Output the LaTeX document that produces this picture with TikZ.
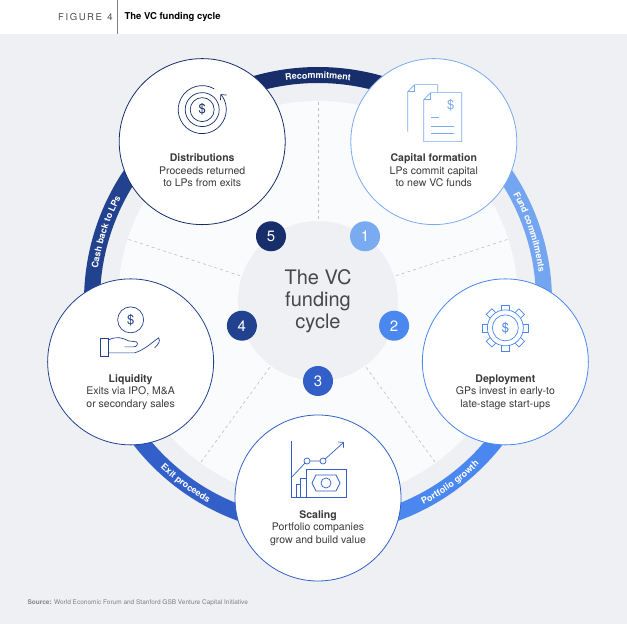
\documentclass[tikz,border=0pt]{standalone}
\usepackage{fontspec}
\setmainfont{TeX Gyre Heros}
\usetikzlibrary{decorations.text,arrows.meta}

\definecolor{panel}{HTML}{EEF0F4}
\definecolor{inner}{HTML}{FAFBFC}
\definecolor{cnavy}{HTML}{172E6B}
\definecolor{cdark}{HTML}{22418F}
\definecolor{cmid}{HTML}{3260C8}
\definecolor{cblue}{HTML}{4A87EE}
\definecolor{clight}{HTML}{7AAAF0}
\definecolor{txt}{HTML}{3A3A3A}

\tikzset{
  stage/.style={circle, draw=#1, fill=white, line width=0.8pt, minimum size=166pt, inner sep=0pt},
  badge/.style={circle, fill=#1, minimum size=30pt, inner sep=0pt, text=white, font=\fontsize{15}{15}\selectfont},
  stagetext/.style={align=center, text=txt, font=\fontsize{10.5}{12.5}\selectfont, anchor=north},
  ringlabel/.style={decorate, decoration={text along path, text align=center, text color=white,
      text={|\fontsize{9}{9}\selectfont\bfseries|#1}}},
  icon/.style={draw=#1, line width=0.7pt},
}

\begin{document}
\begin{tikzpicture}[x=1pt, y=1pt]
  \useasboundingbox (0,0) rectangle (627,624);
  \fill[panel] (0,0) rectangle (627,590);

  % header
  \node[anchor=west, inner sep=0pt, text=black!70, font=\fontsize{9.5}{9.5}\selectfont] (fig) at (58,607) {F\,I\,G\,U\,R\,E\ \ 4};
  \draw[gray, line width=0.8pt] (117,624) -- (117,590);
  \node[anchor=west, text=black, font=\fontsize{9.5}{9.5}\selectfont\bfseries] (title) at (121,607) {The VC funding cycle};

  % ring
  \coordinate (c) at (318,323);
  \fill[inner] (c) circle (200pt);
  \draw[cnavy, line width=16pt] (c) ++(54:226pt) arc[start angle=54, end angle=126, radius=226pt];
  \draw[clight!85!cblue, line width=16pt] (c) ++(-18:226pt) arc[start angle=-18, end angle=54, radius=226pt];
  \draw[cblue, line width=16pt] (c) ++(-90:226pt) arc[start angle=-90, end angle=-18, radius=226pt];
  \draw[cmid, line width=16pt] (c) ++(198:226pt) arc[start angle=198, end angle=270, radius=226pt];
  \draw[cdark, line width=16pt] (c) ++(126:226pt) arc[start angle=126, end angle=198, radius=226pt];

  \path[ringlabel=Recommitment] (c) ++(126:222.5pt) arc[start angle=126, end angle=54, radius=222.5pt];
  \path[ringlabel=Fund commitments] (c) ++(54:222.5pt) arc[start angle=54, end angle=-18, radius=222.5pt];
  \path[ringlabel=Cash back to LPs] (c) ++(198:222.5pt) arc[start angle=198, end angle=126, radius=222.5pt];
  \path[ringlabel=Exit proceeds] (c) ++(198:229.5pt) arc[start angle=198, end angle=270, radius=229.5pt];
  \path[ringlabel=Portfolio growth] (c) ++(270:229.5pt) arc[start angle=270, end angle=342, radius=229.5pt];

  \foreach \a in {90,18,-54,-126,162}
    \draw[dashed, gray!50, line width=0.6pt] (c) ++(\a:82pt) -- ++(\a:118pt);

  % hub
  \node[circle, fill=panel, minimum size=160pt, align=center, text=black!72,
        font=\fontsize{20}{22}\selectfont] (hub) at (c) {The VC\\funding\\cycle};

  \node[badge=clight] (b1) at ([shift={(54:80pt)}]c) {1};
  \node[badge=cblue] (b2) at ([shift={(-18:80pt)}]c) {2};
  \node[badge=cmid] (b3) at ([shift={(-90:80pt)}]c) {3};
  \node[badge=cdark] (b4) at ([shift={(198:80pt)}]c) {4};
  \node[badge=cnavy] (b5) at ([shift={(126:80pt)}]c) {5};

  % stages
  \node[stage=clight] (capital) at ([shift={(54:197pt)}]c) {};
  \node[stage=cblue] (deploy) at ([shift={(-18:197pt)}]c) {};
  \node[stage=cmid] (scaling) at ([shift={(-90:197pt)}]c) {};
  \node[stage=cdark] (liquid) at ([shift={(198:197pt)}]c) {};
  \node[stage=cnavy] (distrib) at ([shift={(126:197pt)}]c) {};

  \node[stagetext] (capitaltxt) at ([yshift=-9pt]capital.center) {\textbf{Capital formation}\\LPs commit capital\\to new VC funds};
  \node[stagetext] (deploytxt) at ([yshift=-9pt]deploy.center) {\textbf{Deployment}\\GPs invest in early-to\\late-stage start-ups};
  \node[stagetext] (scalingtxt) at ([yshift=-9pt]scaling.center) {\textbf{Scaling}\\Portfolio companies\\grow and build value};
  \node[stagetext] (liquidtxt) at ([yshift=-9pt]liquid.center) {\textbf{Liquidity}\\Exits via IPO, M\&A\\or secondary sales};
  \node[stagetext] (distribtxt) at ([yshift=-9pt]distrib.center) {\textbf{Distributions}\\Proceeds returned\\to LPs from exits};

  % icons
  \begin{scope}[shift={(capital.center)}, icon=clight]
    \draw (-26,10) -- (-26,50) -- (-19,57) -- (4,57) -- (4,49);
    \draw (-19,57) -- (-19,50) -- (-26,50);
    \draw[fill=white] (-10,0) -- (-10,42) -- (-3,49) -- (28,49) -- (28,0) -- cycle;
    \draw (-10,42) -- (-3,42) -- (-3,49);
    \node[text=clight, font=\fontsize{13}{13}\selectfont] (capitalsign) at (17,36) {\$};
    \draw (-3,24) -- (5,24) (-3,15) -- (20,15) (-3,8) -- (20,8);
  \end{scope}

  \begin{scope}[shift={(distrib.center)}, icon=cnavy]
    \draw (0,32) circle (12pt) (0,32) circle (17pt);
    \draw[-{Straight Barb[length=4pt]}] (0,32) ++(60:24pt) arc[start angle=60, end angle=400, radius=24pt];
    \node[text=cnavy, font=\fontsize{13}{13}\selectfont] (distribsign) at (0,32) {\$};
  \end{scope}

  \begin{scope}[shift={(deploy.center)}, icon=cblue]
    \draw (0,34) circle (13pt) (0,34) circle (18pt);
    \foreach \a in {0,45,...,315}
      \draw[rotate around={\a:(0,34)}] (-4,51.6) -- (-4,57) -- (4,57) -- (4,51.6);
    \node[text=cblue, font=\fontsize{13}{13}\selectfont] (deploysign) at (0,34) {\$};
  \end{scope}

  \begin{scope}[shift={(scaling.center)}, icon=cmid]
    \draw (-27,57) -- (-27,1);
    \draw[-{Straight Barb[length=4pt]}] (-27,20) -- (-11,37) -- (5,37) -- (26,56);
    \draw[fill=white] (-11,37) circle (3pt) (5,37) circle (3pt);
    \draw (-22,1) -- (-22,14) -- (-18,14) (-18,1) -- (-18,20) -- (-12,20) (-27,1) -- (28,1);
    \draw[fill=white] (-12,1) rectangle (28,29);
    \draw (-6,15) -- (-2,23) -- (18,23) -- (22,15) -- (18,7) -- (-2,7) -- cycle;
    \draw (8,15) circle (5pt);
  \end{scope}

  \begin{scope}[shift={(liquid.center)}, icon=cdark]
    \draw (0,42) circle (13pt);
    \node[text=cdark, font=\fontsize{13}{13}\selectfont] (liquidsign) at (0,42) {\$};
    \draw (-30,6) rectangle (-22,24);
    \draw (-22,22) .. controls (-14,26) and (-8,24) .. (-2,21) -- (6,20) .. controls (8,18) and (6,15) .. (3,15) -- (-6,15);
    \draw (-22,9) -- (4,9) .. controls (14,12) and (22,20) .. (28,24) .. controls (30,21) and (28,18) .. (24,14);
  \end{scope}

  % source
  \node[anchor=west, text=gray, font=\fontsize{6.5}{6.5}\selectfont] (source) at (24,21) {\textbf{Source:} World Economic Forum and Stanford GSB Venture Capital Initiative};
\end{tikzpicture}
\end{document}
